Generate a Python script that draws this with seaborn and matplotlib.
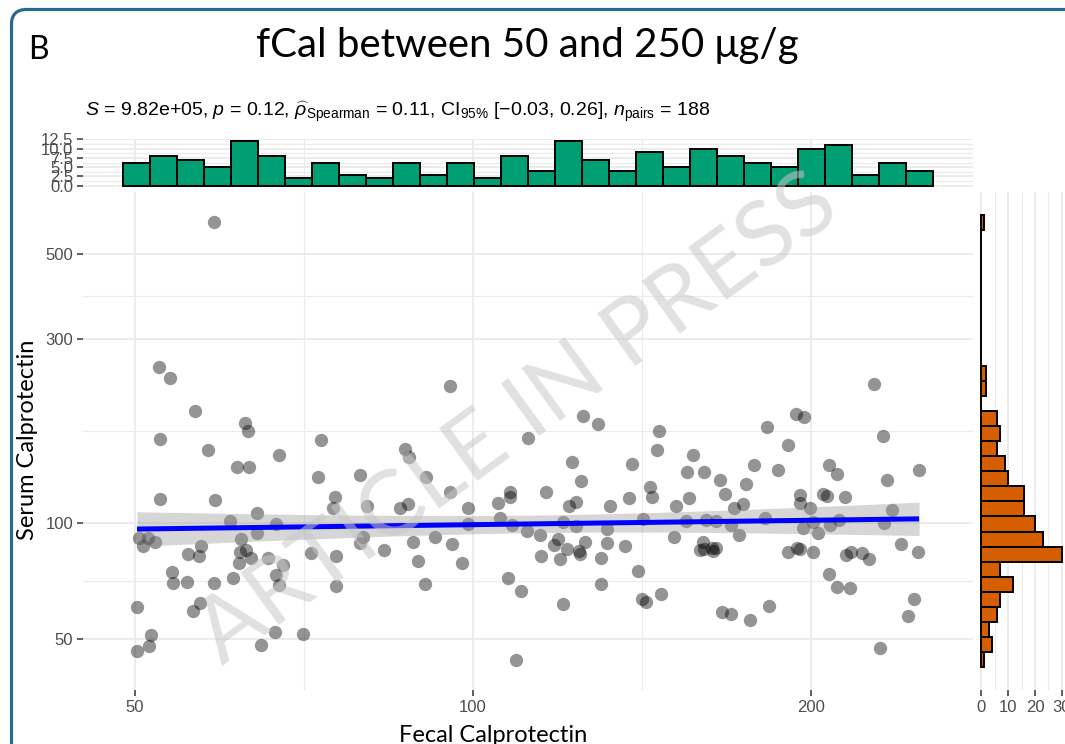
import numpy as np
import matplotlib
matplotlib.use("Agg")
import matplotlib.pyplot as plt
import seaborn as sns
from matplotlib.patches import FancyBboxPatch
from matplotlib.ticker import NullFormatter, FixedLocator, FixedFormatter

# ---------------- data ----------------
fecal_calprotectin = [
    52.5, 53.7, 56.6, 95.4, 62.6, 63.1, 52.6, 58.1, 61.6, 63.2,
    67.2, 73.3, 87.0, 87.8, 111.9, 72.8, 79.3, 90.8, 52.6, 58.9,
    64.2, 75.3, 75.1, 80.5, 86.2, 87.5, 95.4, 99.1, 105.2, 108.0,
    108.0, 105.7, 60.7, 66.8, 99.1, 108.3, 111.8, 50.4, 51.4, 52.1,
    50.8, 55.7, 57.2, 57.0, 62.2, 64.2, 62.0, 62.8, 63.4, 61.9,
    65.7, 67.7, 66.8, 67.2, 53.9, 54.0, 55.6, 58.8, 61.1, 71.8,
    75.5, 75.5, 79.8, 79.4, 83.3, 88.5, 92.6, 95.8, 89.4, 97.9,
    90.7, 107.4, 110.3, 50.2, 57.1, 56.3, 51.7, 51.5, 50.2, 64.7,
    66.7, 70.6, 109.2, 125.4, 129.3, 227.9, 194.0, 197.1, 182.9, 146.4,
    232.2, 146.0, 190.9, 157.0, 122.5, 138.6, 155.2, 160.6, 178.0, 187.1,
    207.8, 211.2, 249.8, 234.1, 124.9, 116.1, 121.8, 123.5, 132.6, 137.9,
    143.7, 144.5, 151.6, 155.8, 165.9, 167.6, 175.1, 173.9, 170.8, 195.8,
    195.8, 199.8, 205.3, 206.8, 214.7, 236.3, 141.9, 154.8, 164.6, 182.0,
    211.9, 232.7, 169.9, 197.0, 201.1, 202.9, 208.1, 131.8, 114.7, 119.2,
    118.0, 121.4, 125.8, 124.3, 124.7, 115.1, 119.7, 130.2, 131.8, 136.5,
    140.2, 130.2, 120.4, 151.1, 160.2, 159.5, 163.5, 164.6, 172.7, 141.4,
    142.6, 147.2, 166.6, 170.0, 176.5, 183.7, 191.0, 194.3, 195.8, 201.1,
    207.5, 211.2, 217.0, 217.1, 222.1, 225.6, 240.6, 249.5, 247.3, 244.2,
    230.7, 58.8, 120.2, 123.5, 161.3, 160.6, 163.6, 215.0,
]
serum_calprotectin = [
    254, 237, 195, 226, 181.6, 172.7, 165.0, 154.2, 139.6, 139.6,
    149.7, 164.3, 155.4, 147.9, 166.0, 131.5, 133.3, 131.2, 115.3, 114.3,
    106.2, 116.4, 109.2, 110.7, 109.2, 111.9, 120.2, 109.0, 112.9, 120.2,
    116.4, 102.7, 100.8, 99.1, 99.4, 98.8, 95.2, 91.6, 91.3, 89.4,
    86.9, 82.9, 86.9, 82.2, 90.7, 94.0, 83.9, 85.1, 81.0, 78.6,
    81.0, 77.5, 73.3, 69.0, 74.7, 69.7, 70.2, 69.7, 72.0, 83.7,
    81.8, 68.7, 91.8, 88.6, 85.1, 89.4, 92.0, 88.2, 79.5, 78.6,
    69.3, 72.1, 66.6, 60.3, 61.9, 59.2, 51.2, 47.9, 46.5, 48.2,
    52.0, 51.5, 44.1, 188.9, 180.6, 229.3, 191.6, 187.7, 176.9, 173.4,
    168.3, 154.8, 159.5, 150.3, 143.8, 141.8, 135.2, 135.5, 141.2, 137.4,
    141.2, 134.1, 137.4, 129.4, 128.6, 119.9, 110.9, 113.4, 110.7, 115.7,
    124.1, 116.9, 110.9, 116.0, 128.9, 119.0, 126.1, 112.1, 109.4, 118.1,
    112.9, 109.2, 118.8, 117.2, 116.9, 108.1, 102.4, 101.2, 100.9, 102.7,
    101.8, 99.8, 98.8, 97.2, 100.4, 94.0, 98.8, 96.5, 93.1, 90.9,
    87.7, 85.5, 89.4, 84.7, 82.9, 82.1, 80.5, 81.0, 88.9, 86.9,
    75.1, 69.3, 61.6, 92.1, 89.4, 85.1, 86.0, 85.9, 93.1, 63.5,
    62.2, 65.5, 58.7, 57.9, 55.9, 60.9, 84.2, 86.1, 85.6, 84.2,
    73.7, 68.3, 67.7, 84.2, 83.4, 80.5, 88.2, 84.2, 63.6, 57.4,
    47.3, 603, 100.6, 98.2, 101.8, 85.6, 84.6, 82.6,
]

x_breaks = [50, 100, 200]
y_breaks = [50, 100, 300, 500]
top_hist_breaks = [0, 2.5, 5, 7.5, 10, 12.5]
right_hist_breaks = [0, 10, 20, 30]

panel_label = "B"
title = "fCal between 50 and 250 μg/g"
subtitle = (r"$\it{S}$ = 9.82e+05, $\it{p}$ = 0.12, "
            r"$\widehat{\rho}_{\mathrm{Spearman}}$ = 0.11, "
            r"CI$_{\mathrm{95\%}}$ [−0.03, 0.26], "
            r"$\it{n}_{\mathrm{pairs}}$ = 188")
x_label = "Fecal Calprotectin"
y_label = "Serum Calprotectin"
watermark = "ARTICLE IN PRESS"

# ---------------- style ----------------
sns.set_theme(style="white")
plt.rcParams["font.family"] = ["Lato", "DejaVu Sans"]
plt.rcParams["mathtext.fontset"] = "custom"
plt.rcParams["mathtext.rm"] = "Liberation Sans"
plt.rcParams["mathtext.it"] = "Liberation Sans:italic"
plt.rcParams["mathtext.bf"] = "Liberation Sans:bold"

GRID = "#ebebeb"
TICK_TXT = "#4d4d4d"
GREEN = "#009E73"
ORANGE = "#D55E00"
TICK_FS = 12

W, H = 1065, 744
fig = plt.figure(figsize=(W / 100, H / 100), dpi=100)
fig.patch.set_facecolor("white")


def box(l, t, r, b):
    return [l / W, 1 - b / H, (r - l) / W, (b - t) / H]


ax = fig.add_axes(box(83, 192, 973, 690))
axt = fig.add_axes(box(83, 139, 973, 188))
axr = fig.add_axes(box(977, 192, 1066, 690))

fx = np.asarray(fecal_calprotectin, float)
sy = np.asarray(serum_calprotectin, float)
lx, ly = np.log10(fx), np.log10(sy)
nb = 30
wx = np.ptp(lx) / (nb - 1)
wy = np.ptp(ly) / (nb - 1)
bx = (lx.min() - wx / 2, lx.max() + wx / 2)
by = (ly.min() - wy / 2, ly.max() + wy / 2)
padx = 0.05 * (bx[1] - bx[0])
pady = 0.05 * (by[1] - by[0])
xlim = (10 ** (bx[0] - padx), 10 ** (bx[1] + padx))
ylim = (10 ** (by[0] - pady), 10 ** (by[1] + pady))


def geo_mid(b):
    b = np.asarray(b, float)
    return list(np.sqrt(b[:-1] * b[1:]))


for a in (ax, axt, axr):
    a.set_facecolor("white")
    for s in a.spines.values():
        s.set_visible(False)
    a.set_axisbelow(True)

# ---------------- main scatter ----------------
ax.set_xscale("log")
ax.set_yscale("log")
sns.scatterplot(x=fx, y=sy, ax=ax, color="black", alpha=0.42, s=92,
                linewidth=0, zorder=2)

# linear fit in log-log space with 95% CI
n = len(lx)
b1, b0 = np.polyfit(lx, ly, 1)
xs = np.linspace(lx.min(), lx.max(), 200)
yh = b0 + b1 * xs
res = ly - (b0 + b1 * lx)
s_err = np.sqrt(np.sum(res ** 2) / (n - 2))
sxx = np.sum((lx - lx.mean()) ** 2)
se = s_err * np.sqrt(1 / n + (xs - lx.mean()) ** 2 / sxx)
tq = 1.9728
ax.fill_between(10 ** xs, 10 ** (yh - tq * se), 10 ** (yh + tq * se),
                color="#999999", alpha=0.4, linewidth=0, zorder=3)
ax.plot(10 ** xs, 10 ** yh, color="blue", lw=3.6, zorder=4,
        solid_capstyle="butt")

ax.set_xlim(xlim)
ax.set_ylim(ylim)
ax.xaxis.set_major_locator(FixedLocator(x_breaks))
ax.xaxis.set_major_formatter(FixedFormatter([str(v) for v in x_breaks]))
ax.xaxis.set_minor_locator(FixedLocator(geo_mid(x_breaks)))
ax.xaxis.set_minor_formatter(NullFormatter())
ax.yaxis.set_major_locator(FixedLocator(y_breaks))
ax.yaxis.set_major_formatter(FixedFormatter([str(v) for v in y_breaks]))
ax.yaxis.set_minor_locator(FixedLocator(geo_mid(y_breaks)))
ax.yaxis.set_minor_formatter(NullFormatter())
ax.grid(which="major", color=GRID, lw=1.3)
ax.grid(which="minor", color=GRID, lw=0.8)
ax.tick_params(which="major", length=4, width=1.1, color="#333333",
               labelsize=TICK_FS, labelcolor=TICK_TXT, pad=3,
               left=True, bottom=True)
ax.tick_params(which="minor", length=0)
for lab in ax.get_xticklabels() + ax.get_yticklabels():
    lab.set_family("Liberation Sans")
ax.set_xlabel("")
ax.set_ylabel("")

# ---------------- top marginal histogram ----------------
sns.histplot(x=fx, ax=axt, bins=nb, binrange=bx, log_scale=True,
             color=GREEN, edgecolor="black", linewidth=1.4, alpha=1,
             zorder=2)
cmax_t = np.histogram(lx, bins=nb, range=bx)[0].max()
axt.set_xlim(xlim)
axt.set_ylim(-0.05 * cmax_t, 1.05 * cmax_t)
axt.xaxis.set_major_locator(FixedLocator(x_breaks))
axt.xaxis.set_minor_locator(FixedLocator(geo_mid(x_breaks)))
axt.xaxis.set_major_formatter(NullFormatter())
axt.xaxis.set_minor_formatter(NullFormatter())
axt.yaxis.set_major_locator(FixedLocator(top_hist_breaks))
axt.yaxis.set_major_formatter(FixedFormatter([f"{v:.1f}" for v in top_hist_breaks]))
axt.yaxis.set_minor_locator(FixedLocator(list(np.array(top_hist_breaks[:-1]) + 1.25)))
axt.grid(which="major", color=GRID, lw=1.3)
axt.grid(which="minor", color=GRID, lw=0.8)
axt.tick_params(axis="y", which="major", length=4, width=1.1, color="#333333",
                labelsize=TICK_FS, labelcolor=TICK_TXT, pad=3, left=True)
axt.tick_params(axis="x", which="both", length=0)
axt.tick_params(axis="y", which="minor", length=0)
for lab in axt.get_yticklabels():
    lab.set_family("Liberation Sans")
axt.set_xlabel("")
axt.set_ylabel("")

# ---------------- right marginal histogram ----------------
sns.histplot(y=sy, ax=axr, bins=nb, binrange=by, log_scale=True,
             color=ORANGE, edgecolor="black", linewidth=1.4, alpha=1,
             zorder=2)
cmax_r = np.histogram(ly, bins=nb, range=by)[0].max()
axr.set_ylim(ylim)
axr.set_xlim(-0.05 * cmax_r, 1.05 * cmax_r)
axr.xaxis.set_major_locator(FixedLocator(right_hist_breaks))
axr.xaxis.set_major_formatter(FixedFormatter([str(v) for v in right_hist_breaks]))
axr.xaxis.set_minor_locator(FixedLocator(list(np.array(right_hist_breaks[:-1]) + 5)))
axr.yaxis.set_major_locator(FixedLocator([]))
axr.yaxis.set_minor_locator(FixedLocator([]))
axr.grid(axis="x", which="major", color=GRID, lw=1.3)
axr.grid(axis="x", which="minor", color=GRID, lw=0.8)
axr.tick_params(axis="x", which="major", length=4, width=1.1, color="#333333",
                labelsize=TICK_FS, labelcolor=TICK_TXT, pad=3, bottom=True)
axr.tick_params(axis="x", which="minor", length=0)
for lab in axr.get_xticklabels():
    lab.set_family("Liberation Sans")
axr.set_xlabel("")
axr.set_ylabel("")

# ---------------- texts ----------------
fig.text(38 / W, 1 - 50 / H, panel_label, fontsize=23, ha="center",
         va="center", color="black")
fig.text(527 / W, 1 - 46 / H, title, fontsize=29, ha="center",
         va="center", color="black")
fig.text(85 / W, 1 - 112 / H, subtitle, fontsize=14, ha="left",
         va="center", color="black", family="Liberation Sans")
fig.text(28 / W, 1 - 440 / H, y_label, fontsize=17, rotation=90,
         ha="center", va="center", color="black")
fig.text(493 / W, 1 - 735 / H, x_label, fontsize=17, ha="center",
         va="center", color="black")
fig.text(518 / W, 1 - 420 / H, watermark, fontsize=66, rotation=36,
         ha="center", va="center", color="#c8c8c8", alpha=0.55, zorder=20)

# outer frame (blue, rounded corner, continues off the crop)
frame = FancyBboxPatch((0.115, -1.0), 12.0, 8.345,
                       boxstyle="round,pad=0,rounding_size=0.15",
                       transform=fig.dpi_scale_trans, fill=False,
                       edgecolor="#2b6a8e", linewidth=2.3, clip_on=False)
fig.patches.append(frame)

fig.savefig("out.png", dpi=100, facecolor="white")
